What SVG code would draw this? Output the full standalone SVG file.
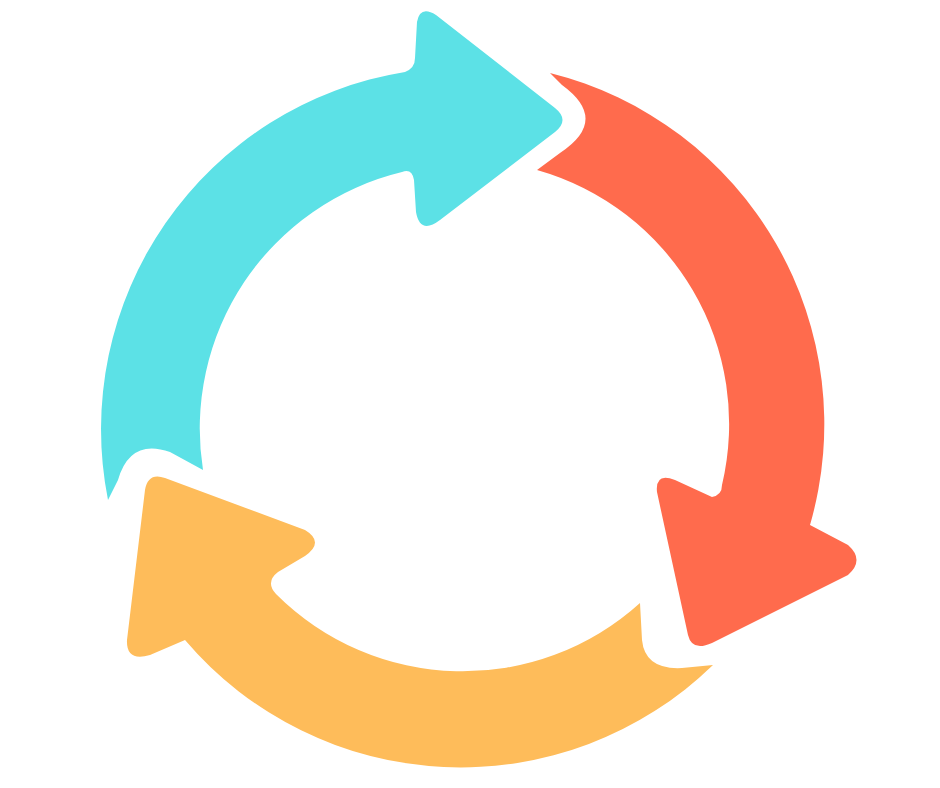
<svg xmlns="http://www.w3.org/2000/svg" width="940" height="788" viewBox="0 0 940 788">
<rect width="940" height="788" fill="#fff"/>
<g id="cyan-arrow"><path fill="#5CE1E6" d="M108,500 A362,362 0 0 1 405,72 Q415,68 415,58 L417,22 Q420,5 436,15 L555,108 Q570,120 555,132 L440,220 Q420,235 416,212 L414,180 Q412,168 402,172 A264,264 0 0 0 203,470 L170,452 Q130,438 118,480 Z"/></g>
<g id="red-arrow"><path fill="#FF6B4D" d="M550,73 A362,362 0 0 1 810,525 L848,545 Q865,560 848,575 L712,643 Q692,652 688,635 L657,492 Q655,472 675,480 L712,497 Q722,495 722,485 A264,264 0 0 0 537,170 L560,153 Q610,120 562,85 Z"/></g>
<g id="orange-arrow"><path fill="#FEBC5A" d="M713,665 A362,362 0 0 1 185,640 L150,655 Q126,662 127,640 L145,490 Q148,472 165,478 L305,530 Q325,542 305,556 L278,572 Q265,582 276,594 A264,264 0 0 0 640,603 L642,640 Q645,670 682,668 Z"/></g>
</svg>
